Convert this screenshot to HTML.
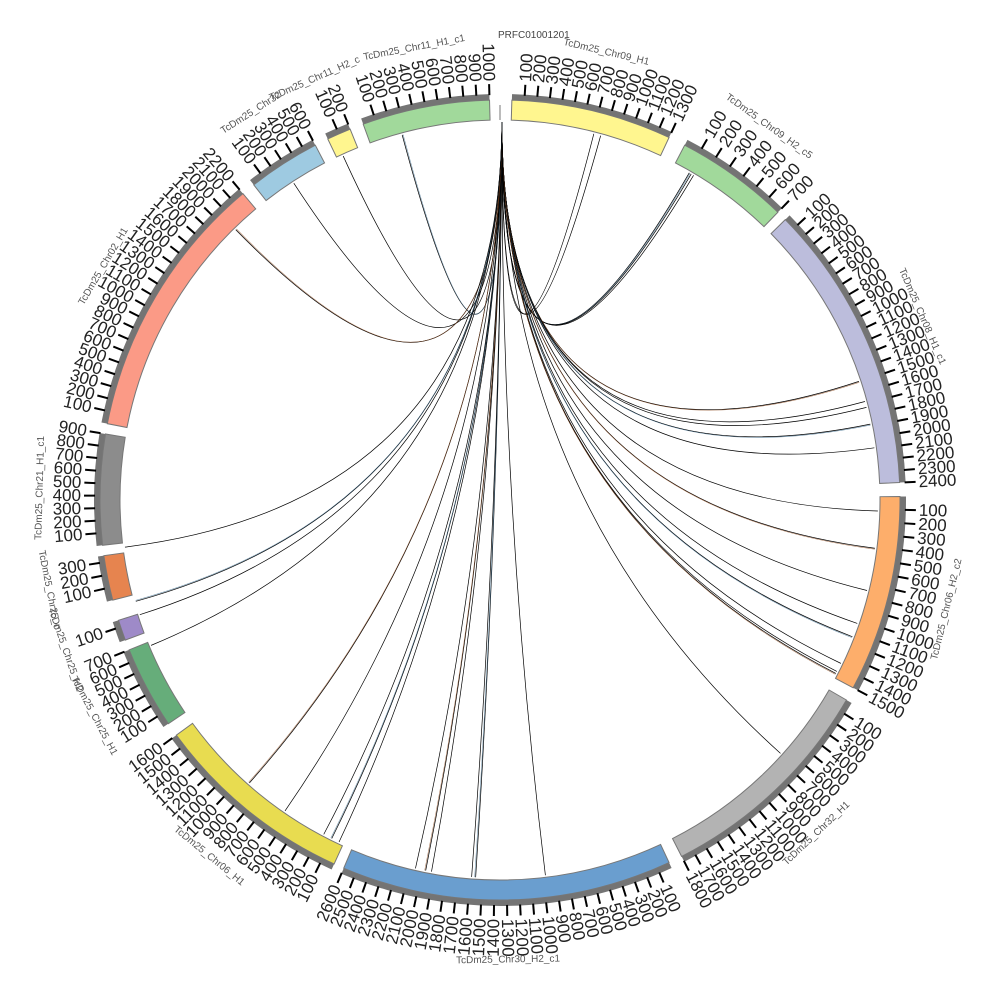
<!DOCTYPE html>
<html><head><meta charset="utf-8">
<style>
html,body{margin:0;padding:0;background:#fff;}
svg{display:block;}
text{font-family:"Liberation Sans",sans-serif;}
</style></head>
<body>
<svg id="s" width="1000" height="1000" viewBox="0 0 1000 1000" xmlns="http://www.w3.org/2000/svg"></svg>
<script>
var S=document.getElementById('s');
var CX=500,CY=500;
function P(r,a){var t=a*Math.PI/180;return [CX+r*Math.sin(t),CY-r*Math.cos(t)];}
function arc(r1,r2,a1,a2){
  var p1=P(r2,a1),p2=P(r2,a2),p3=P(r1,a2),p4=P(r1,a1);var l=(a2-a1)>180?1:0;
  return 'M'+p1+' A'+r2+','+r2+' 0 '+l+' 1 '+p2+' L'+p3+' A'+r1+','+r1+' 0 '+l+' 0 '+p4+' Z';
}
var h='';
var segs=[
 [-20,-1.5,1000,'#a1d99b','TcDm25_Chr11_H1_c1'],
 [1.7,25,1300,'#fff68f','TcDm25_Chr09_H1'],
 [27.5,44,700,'#a1d99b','TcDm25_Chr09_H2_c5'],
 [45.5,87.5,2400,'#bcbddc','TcDm25_Chr08_H1_c1'],
 [89.5,118,1500,'#fdae6b','TcDm25_Chr06_H2_c2'],
 [120,153,1800,'#b3b3b3','TcDm25_Chr32_H1'],
 [155,203,2600,'#6a9ecf','TcDm25_Chr30_H2_c1'],
 [204.5,234,1600,'#e8dc50','TcDm25_Chr06_H1'],
 [236,248,700,'#66ad7a','TcDm25_Chr25_H1'],
 [249.5,252.5,150,'#9e8ac8','TcDm25_Chr25_H2'],
 [255.5,262,350,'#e6844f','TcDm25_Chr25_c'],
 [263.5,279.5,900,'#8c8c8c','TcDm25_Chr21_H1_c1'],
 [281,320,2200,'#fb9a86','TcDm25_Chr02_H1'],
 [322,332.5,600,'#9ecae1','TcDm25_Chr32'],
 [334.5,338,200,'#fff68f','TcDm25_Chr11_H2_c']
];
segs.forEach(function(s){
  var a1=s[0],a2=s[1],L=s[2];
  h+='<path d="'+arc(400,406,a1,a2)+'" fill="#747474"/>';
  h+='<path d="'+arc(380,400,a1,a2)+'" fill="'+s[3]+'" stroke="#777" stroke-width="1"/>';
  for(var v=100;v<=L;v+=100){
    var a=a1+(a2-a1)*v/L; if(a>a2)break;
    var p=P(405,a),q=P(416,a);
    h+='<line x1="'+p[0]+'" y1="'+p[1]+'" x2="'+q[0]+'" y2="'+q[1]+'" stroke="#000" stroke-width="2"/>';
    var t=P(419,a),aa=((a%360)+360)%360,rot,anc;
    if(aa<180){rot=aa-90;anc='start';}else{rot=aa+90;anc='end';}
    h+='<text x="'+t[0]+'" y="'+t[1]+'" font-size="17" fill="#222" text-anchor="'+anc+'" dominant-baseline="central" transform="rotate('+rot+' '+t[0]+' '+t[1]+')">'+v+'</text>';
  }
  var m=(a1+a2)/2,mm=((m%360)+360)%360,lp=P(460,m),lr=(mm>90&&mm<270)?mm-180:mm;
  h+='<text x="'+lp[0]+'" y="'+lp[1]+'" font-size="10" fill="#555" text-anchor="middle" dominant-baseline="central" transform="rotate('+lr+' '+lp[0]+' '+lp[1]+')">'+s[4]+'</text>';
});
h+='<text x="498" y="38" font-size="10" fill="#444">PRFC01001201</text>';
h+='<line x1="500" y1="105" x2="500" y2="120" stroke="#777" stroke-width="1"/>';
var ends=[[403,138],[345,160],[295,185],[238,232],[593,137],[600,138],[688,175],[690,176],[692,178],
[857,382],[863,402],[864,408],[866,425],[873,448],
[877,511],[873,548],[865,590],[856,623],[848,635],[838,662],[836,671],[835,673],
[790,762],[545,872],[476,872],[472,872],[432,869],[426,869],[416,866],
[340,840],[333,836],[325,832],[287,808],[252,780],
[152,645],[142,614],[137,601],[126,547]];
var s0=P(378,0.3);
ends.forEach(function(e,i){
  var a=Math.atan2(e[0]-CX,CY-e[1])*180/Math.PI;var p=P(378,a);
  h+='<path d="M'+s0+' Q'+CX+','+CY+' '+p+'" fill="none" stroke="#000" stroke-width="0.7"/>';
  if(i%3==0){var p2=P(378,a+0.15);h+='<path d="M'+s0+' Q'+CX+','+CY+' '+p2+'" fill="none" stroke="'+(i%2?'#8a4a20':'#3a6a8a')+'" stroke-width="0.6" opacity="0.7"/>';}
});
S.innerHTML=h;
</script>
</body></html>
